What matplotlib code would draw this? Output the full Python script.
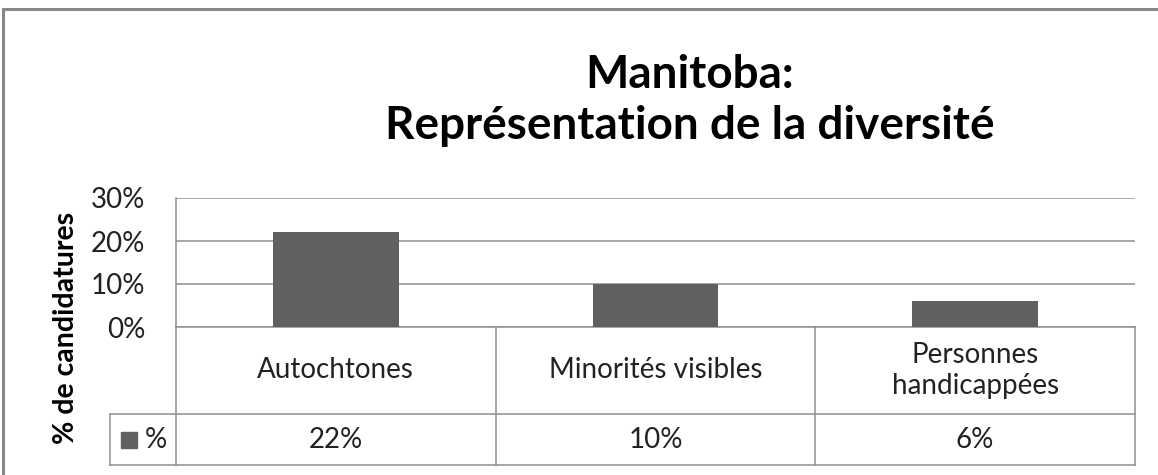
"""
Manitoba: représentation de la diversité — bar chart with an Excel-style data table.
"""
import matplotlib
matplotlib.use('Agg')
import matplotlib.pyplot as plt
from matplotlib.patches import Rectangle
from matplotlib.ticker import PercentFormatter

# Data
categories = ['Autochtones', 'Minorités visibles', 'Personnes\nhandicappées']
values = [0.22, 0.10, 0.06]
series_name = '%'
title_lines = ['Manitoba:', 'Représentation de la diversité']
y_label = '% de candidatures'

W, H = 1158, 475
BAR_COLOR = '#606060'
LINE_COLOR = '#8f8f8f'
FONT = ['Lato', 'DejaVu Sans']
FS = 20

plt.rcParams['font.family'] = FONT
plt.rcParams['text.color'] = '#222222'


def fx(px):
    return px / W


def fy(py):
    return 1 - py / H


fig = plt.figure(figsize=(W / 100, H / 100), dpi=100)

# Outer chart frame
fig.patches.append(Rectangle((fx(3), fy(480)), fx(1162) - fx(3), fy(9) - fy(480),
                             transform=fig.transFigure, fill=False,
                             edgecolor='#888888', linewidth=2.2))

# Plot area
ax = fig.add_axes([fx(176), fy(327), fx(1135) - fx(176), fy(198) - fy(327)])
xs = list(range(len(categories)))
ax.bar(xs, values, width=0.394, color=BAR_COLOR, zorder=3)
ax.set_xlim(-0.5, len(categories) - 0.5)
ax.set_ylim(0, 0.30)
ax.set_yticks([0, 0.1, 0.2, 0.3])
ax.yaxis.set_major_formatter(PercentFormatter(1.0, decimals=0))
ax.tick_params(axis='y', length=0, pad=22, labelsize=FS, labelcolor='#222222')
ax.set_xticks([])
ax.grid(axis='y', color=LINE_COLOR, linewidth=1.1)
for s in ['top', 'right']:
    ax.spines[s].set_visible(False)
for s in ['left', 'bottom']:
    ax.spines[s].set_color(LINE_COLOR)
    ax.spines[s].set_linewidth(1.1)

# Data table below the plot area, in the same x scale
tab = fig.add_axes([fx(176), fy(465), fx(1135) - fx(176), fy(327) - fy(465)])
tab.set_xlim(ax.get_xlim())
tab.set_ylim(0, 1)
tab.axis('off')
row_split = (465 - 414) / (465 - 327)
leg_left = -0.5 - (176 - 110) / ((1135 - 176) / len(categories))
line_kw = dict(color=LINE_COLOR, linewidth=1.1, clip_on=False)
for b in [x + 0.5 for x in xs[:-1]]:
    tab.plot([b, b], [0, 1], **line_kw)
tab.plot([-0.5, -0.5], [0, 1], **line_kw)
tab.plot([len(categories) - 0.5] * 2, [0, 1], **line_kw)
tab.plot([leg_left, len(categories) - 0.5], [row_split, row_split], **line_kw)
tab.plot([leg_left, len(categories) - 0.5], [0, 0], **line_kw)
tab.plot([leg_left, leg_left], [0, row_split], **line_kw)

for x, cat, v in zip(xs, categories, values):
    tab.text(x, (1 + row_split) / 2, cat, ha='center', va='center',
             fontsize=FS, linespacing=1.2)
    tab.text(x, row_split / 2, f'{v:.0%}', ha='center', va='center', fontsize=FS)

# Legend key in the table
tab.plot([leg_left + 0.06], [row_split / 2], marker='s', markersize=11.5,
         color=BAR_COLOR, clip_on=False)
tab.text(leg_left + 0.145, row_split / 2, series_name, ha='center', va='center',
         fontsize=FS)

# Titles
fig.text(fx(690), fy(88), title_lines[0], ha='center', va='baseline',
         fontsize=33, fontweight='bold', color='black')
fig.text(fx(690), fy(139), title_lines[1], ha='center', va='baseline',
         fontsize=33, fontweight='bold', color='black')
fig.text(fx(66), fy(328), y_label, rotation=90, ha='center', va='center',
         fontsize=20.5, fontweight='bold', color='black')

fig.savefig('out.png', dpi=100)
